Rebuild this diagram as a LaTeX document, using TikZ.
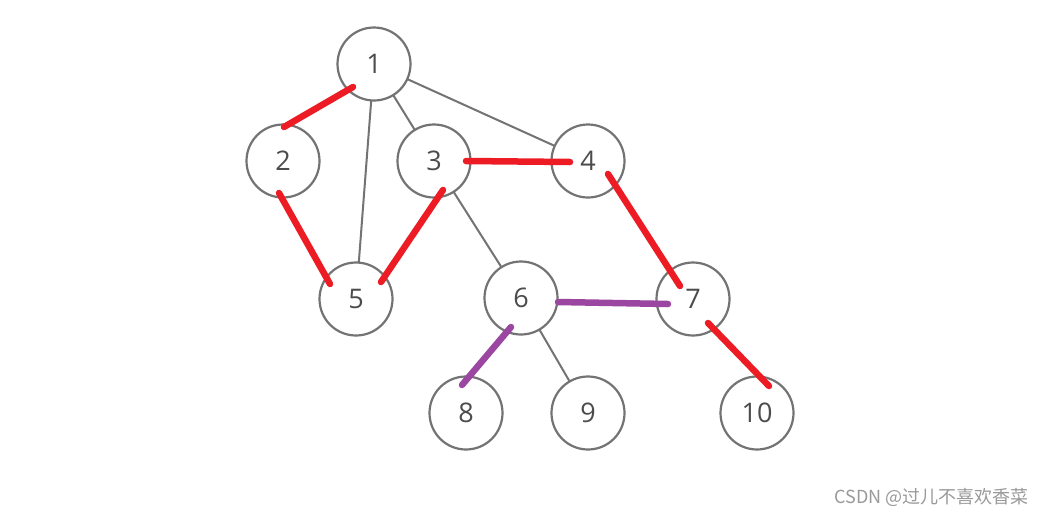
\documentclass[tikz,border=0pt]{standalone}
\usepackage{fontspec}
\setmainfont{Open Sans}
\newfontfamily\cjkfont{Noto Sans CJK SC}
\begin{document}
\begin{tikzpicture}[x=1pt,y=-1pt,
  vtx/.style={circle,draw=black!55,line width=2.2pt,minimum size=73pt,inner sep=0pt,font=\fontsize{27}{27}\selectfont,text=black!70,fill=white},
  edge/.style={draw=black!55,line width=2pt},
  redmark/.style={draw={rgb,255:red,237;green,28;blue,36},line width=6.5pt,line cap=round},
  purplemark/.style={draw={rgb,255:red,155;green,70;blue,160},line width=6.5pt,line cap=round}]
\useasboundingbox (0,0) rectangle (1044,517);
\fill[white] (0,0) rectangle (1044,517);
\coordinate (c1) at (374,64);
\coordinate (c2) at (283,161);
\coordinate (c3) at (434,161);
\coordinate (c4) at (588,161);
\coordinate (c5) at (356,299);
\coordinate (c6) at (521,298);
\coordinate (c7) at (693,299);
\coordinate (c8) at (466,413);
\coordinate (c9) at (588,413);
\coordinate (c10) at (757,413);
\draw[edge] (c1)--(c3) (c1)--(c4) (c1)--(c5) (c3)--(c6) (c6)--(c9);
\node[vtx] (n1) at (c1) {1};
\node[vtx] (n2) at (c2) {2};
\node[vtx] (n3) at (c3) {3};
\node[vtx] (n4) at (c4) {4};
\node[vtx] (n5) at (c5) {5};
\node[vtx] (n6) at (c6) {6};
\node[vtx] (n7) at (c7) {7};
\node[vtx] (n8) at (c8) {8};
\node[vtx] (n9) at (c9) {9};
\node[vtx] (n10) at (c10) {10};
% hand-drawn marks
\coordinate (r12a) at (353,87);  \coordinate (r12b) at (284,127);
\coordinate (r34a) at (466,161); \coordinate (r34b) at (570,162);
\coordinate (r25a) at (279,193); \coordinate (r25b) at (330,284);
\coordinate (r35a) at (443,190); \coordinate (r35b) at (381,282);
\coordinate (r47a) at (608,174); \coordinate (r47b) at (680,286);
\coordinate (r710a) at (708,323); \coordinate (r710b) at (769,386);
\coordinate (p67a) at (558,302); \coordinate (p67b) at (668,304);
\coordinate (p68a) at (511,327); \coordinate (p68b) at (462,385);
\draw[redmark] (r12a)--(r12b);
\draw[redmark] (r34a)--(r34b);
\draw[redmark] (r25a)--(r25b);
\draw[redmark] (r35a)--(r35b);
\draw[redmark] (r47a)--(r47b);
\draw[redmark] (r710a)--(r710b);
\draw[purplemark] (p67a)--(p67b);
\draw[purplemark] (p68a)--(p68b);
\node[text=black!40,font=\cjkfont\fontsize{18}{18}\selectfont,anchor=east,inner sep=0pt] (wm) at (1029,497) {CSDN @过儿不喜欢香菜};
\end{tikzpicture}
\end{document}
